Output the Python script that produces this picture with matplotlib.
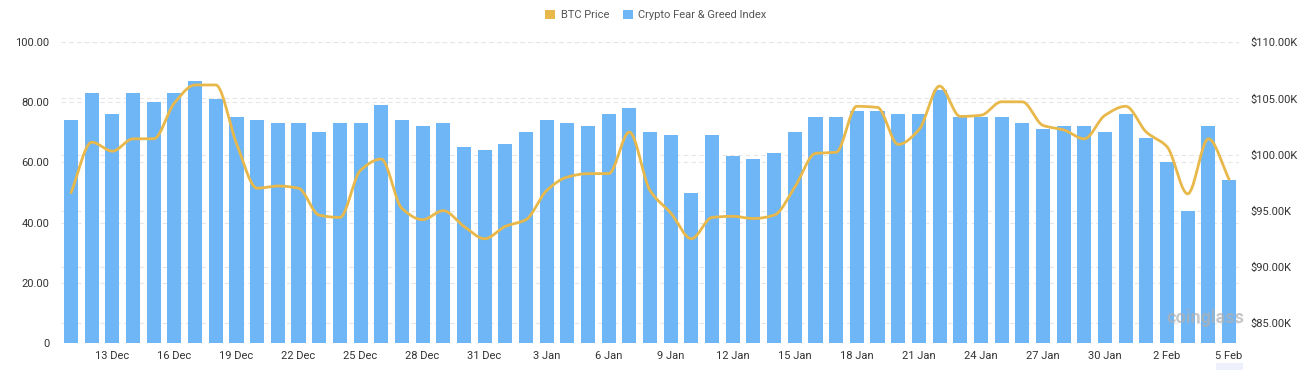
import numpy as np
import pandas as pd
import matplotlib
matplotlib.use("Agg")
import matplotlib.pyplot as plt
from matplotlib.patches import Patch, Rectangle
from matplotlib.transforms import blended_transform_factory

plt.rcParams['font.family'] = ['Roboto', 'DejaVu Sans']

# ---- data ----
dates = pd.date_range("2024-12-11", "2025-02-05", freq="D")
date_labels = [f"{d.day} {d.strftime('%b')}" for d in dates]

fear_greed = [74, 83, 76, 83, 80, 83, 87, 81, 75, 74, 73, 73, 70, 73, 73, 79, 74, 72, 73, 65, 64,
              66, 70, 74, 73, 72, 76, 78, 70, 69, 50, 69, 62, 61, 63, 70, 75, 75, 77, 77, 76,
              76, 84, 75, 75, 75, 73, 71, 72, 72, 70, 76, 68, 60, 44, 72, 54]

btc_price = [96.6, 101.1, 100.3, 101.4, 101.4, 104.6, 106.2, 106.2, 101.0, 97.0, 97.2, 97.0, 94.6, 94.4, 98.6, 99.6,
             95.2, 94.2, 95.0, 93.6, 92.5,
             93.6, 94.2, 96.8, 98.0, 98.3, 98.3, 102.0, 96.8, 94.8, 92.5, 94.4, 94.5, 94.3, 94.6, 97.1,
             100.1, 100.2, 104.3, 104.2, 100.9, 102.2, 106.1, 103.4, 103.5, 104.7, 104.7, 102.6, 102.2,
             101.4, 103.5, 104.3,
             102.0, 100.7, 96.5, 101.4, 97.8]
btc_price = [v * 1000 for v in btc_price]

left_ticks = [0, 20, 40, 60, 80, 100]
right_ticks = [85000, 90000, 95000, 100000, 105000, 110000]
right_lim = (83240, 110000)

BAR_C = "#6EB6F6"
LINE_C = "#E8B84B"
TXT = "#333333"
GRID = "#E6E6E6"


def pchip(x, y, xs):
    x = np.asarray(x, float); y = np.asarray(y, float)
    h = np.diff(x); d = np.diff(y) / h
    m = np.zeros_like(y)
    for k in range(1, len(y) - 1):
        if d[k - 1] * d[k] > 0:
            w1 = 2 * h[k] + h[k - 1]; w2 = h[k] + 2 * h[k - 1]
            m[k] = (w1 + w2) / (w1 / d[k - 1] + w2 / d[k])
    m[0] = d[0]; m[-1] = d[-1]
    idx = np.clip(np.searchsorted(x, xs) - 1, 0, len(x) - 2)
    t = (xs - x[idx]) / h[idx]
    h00 = 2 * t**3 - 3 * t**2 + 1; h10 = t**3 - 2 * t**2 + t
    h01 = -2 * t**3 + 3 * t**2; h11 = t**3 - t**2
    return h00 * y[idx] + h10 * h[idx] * m[idx] + h01 * y[idx + 1] + h11 * h[idx] * m[idx + 1]


W, H = 1312, 370
fig = plt.figure(figsize=(W / 100, H / 100), dpi=100)
L, R, T, B = 60.7, 1239.4, 42.3, 342.7
ax = fig.add_axes([L / W, 1 - B / H, (R - L) / W, (B - T) / H])
ax2 = ax.twinx()

xpos = np.arange(len(dates))
ax.set_xlim(-0.5, len(dates) - 0.5)
ax.set_ylim(0, 100)
ax2.set_ylim(*right_lim)

# grid lines (all drawn on ax so that they stay behind the bars)
for v in left_ticks:
    ax.axhline(v, color=GRID, lw=0.8, ls=(0, (4, 3)) if v != 0 else '-', zorder=0)
tr = blended_transform_factory(ax.transAxes, ax2.transData)
for v in right_ticks:
    ax.plot([0, 1], [v, v], transform=tr, color=GRID, lw=0.8, ls=(0, (4, 3)), zorder=0)

ax.bar(xpos, fear_greed, width=0.68, color=BAR_C, zorder=2)

xs = np.linspace(0, len(dates) - 1, 2000)
ax2.plot(xs, pchip(xpos, btc_price, xs), color=LINE_C, lw=2.0, solid_capstyle='round', zorder=3)

# ticks
ax.set_yticks(left_ticks)
ax.set_yticklabels([("%.2f" % v) if v else "0" for v in left_ticks])
ax2.set_yticks(right_ticks)
ax2.set_yticklabels([f"${v/1000:.2f}K" for v in right_ticks])
tick_idx = list(range(2, len(dates), 3))
ax.set_xticks(tick_idx)
ax.set_xticklabels([date_labels[i] for i in tick_idx])

for a in (ax, ax2):
    for s in a.spines.values():
        s.set_visible(False)
    a.tick_params(length=0, labelsize=8, colors=TXT)
ax.tick_params(axis='y', pad=8)
ax2.tick_params(axis='y', pad=8)
ax.tick_params(axis='x', pad=6)

# legend
handles = [Patch(facecolor=LINE_C, edgecolor='none', label='BTC Price'),
           Patch(facecolor=BAR_C, edgecolor='none', label='Crypto Fear & Greed Index')]
fig.legend(handles=handles, loc='center', bbox_to_anchor=(0.5, 1 - 15 / H), ncol=2, frameon=False,
           handlelength=0.9, handleheight=0.9, handletextpad=0.5, columnspacing=1.2,
           fontsize=8, labelcolor="#555555")

# watermark and axis pointer highlight
fig.text(1205 / W, 1 - 318 / H, "coinglass", fontsize=13, color="#B0B0B0", alpha=0.7,
         ha='center', va='center', fontweight='bold')
fig.patches.append(Rectangle((1216 / W, 0), 27 / W, 7 / H, transform=fig.transFigure,
                             facecolor="#EEF1FB", edgecolor='none', zorder=0))

fig.savefig("out.png", dpi=100)
